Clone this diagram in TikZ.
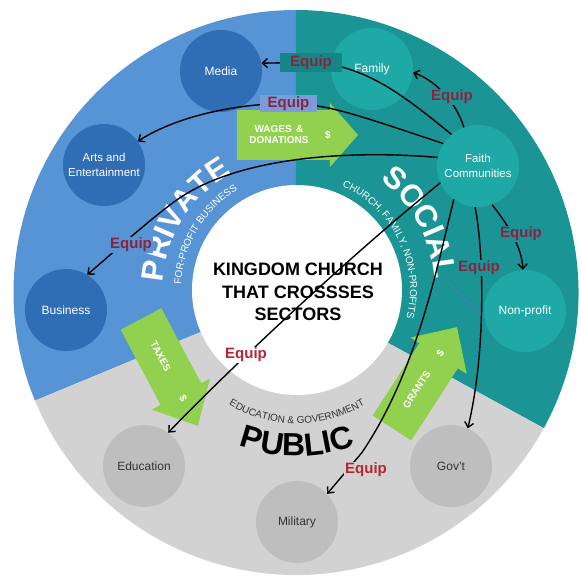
\documentclass[tikz,border=0pt]{standalone}
\usepackage{fontspec}
\setmainfont{Liberation Sans}
\usetikzlibrary{arrows.meta,decorations.text}
\definecolor{privc}{HTML}{5694D6}
\definecolor{privcirc}{HTML}{2F6DB5}
\definecolor{socc}{HTML}{1A9494}
\definecolor{soccirc}{HTML}{1FA9A6}
\definecolor{pubc}{HTML}{D2D2D2}
\definecolor{pubcirc}{HTML}{BEBEBE}
\definecolor{greenarr}{HTML}{92D050}
\definecolor{equipdark}{HTML}{8B2340}
\definecolor{equipred}{HTML}{B52532}
\definecolor{boxteal}{HTML}{158585}
\definecolor{boxblue}{HTML}{7A9CD8}
\definecolor{faintline}{HTML}{6A78D0}
\newcommand{\ampchar}{\&}
\begin{document}
\begin{tikzpicture}[x=1pt,y=1pt,
  basecirc/.style={circle, minimum size=82pt, inner sep=0pt, align=center, font=\fontsize{12}{15}\selectfont},
  pcirc/.style={basecirc, fill=privcirc, text=white},
  scirc/.style={basecirc, fill=soccirc, text=white},
  gcirc/.style={basecirc, fill=pubcirc, text=black!80},
  twoline/.style={font=\fontsize{11.5}{15}\selectfont},
  garrtext/.style={text=white, font=\fontsize{10}{11}\selectfont\bfseries, inner sep=0pt, align=center},
  conn/.style={line width=1.4pt, black, -{Straight Barb[length=5pt,width=9pt]}},
  equip/.style={font=\fontsize{15}{15}\selectfont\bfseries, text=equipdark, inner sep=1pt},
  equipg/.style={equip, text=equipred}]
\useasboundingbox (-296,-283.5) rectangle (285,292.5);
% sectors
\fill[privc] (0,0) -- (90:282.5) arc[start angle=90, end angle=202.5, radius=282.5] -- cycle;
\fill[socc] (0,0) -- (-28.7:282.5) arc[start angle=-28.7, end angle=90, radius=282.5] -- cycle;
\fill[pubc] (0,0) -- (202.5:282.5) arc[start angle=202.5, end angle=331.3, radius=282.5] -- cycle;
\fill[white] (1,2.5) circle[radius=105];
% green arrows
\fill[greenarr] (-59,132.5) -- (34,132.5) -- (34,125.5) -- (62,157.5) -- (34,189.5) -- (34,182.5) -- (-59,182.5) -- cycle;
\node[garrtext] (wages) at (-17,158) {WAGES \,\&\\DONATIONS};
\node[garrtext] (wagesd) at (32,157.5) {\$};
\begin{scope}[shift={(-155,-26.5)}, rotate=-62]
\fill[greenarr] (0,-23) -- (85,-23) -- (85,-33) -- (121,0) -- (85,33) -- (85,23) -- (0,23) -- cycle;
\node[garrtext, rotate=-62] (taxes) at (42,0) {TAXES};
\node[garrtext, rotate=-62] (taxesd) at (90,0) {\$};
\end{scope}
\begin{scope}[shift={(96,-135.5)}, rotate=57.2]
\fill[greenarr] (0,-23) -- (86,-23) -- (86,-33.5) -- (120,0) -- (86,33.5) -- (86,23) -- (0,23) -- cycle;
\node[garrtext, rotate=57.2] (grants) at (45.5,0) {GRANTS};
\node[garrtext, rotate=57.2] (grantsd) at (89,0) {\$};
\end{scope}
% arc texts
\begin{scope}[shift={(1,2.5)}]
\path[decorate, decoration={text along path, text align=center, text={|\fontsize{31}{31}\selectfont\bfseries\color{white}|PRIVATE}}]
  (188:134) arc[start angle=188, end angle=108, radius=134];
\path[decorate, decoration={text along path, text align=center, text={|\fontsize{31}{31}\selectfont\bfseries\color{white}|SOCIAL}}]
  (68.6:138) arc[start angle=68.6, end angle=-11.4, radius=138];
\path[decorate, decoration={text along path, text align=center, text={|\fontsize{10}{10}\selectfont\color{white}|FOR-PROFIT BUSINESS}}]
  (189:116) arc[start angle=189, end angle=109, radius=116];
\path[decorate, decoration={text along path, text align=center, text={|\fontsize{10}{10}\selectfont\color{white}|CHURCH, FAMILY, NON-PROFITS}}]
  (76:113) arc[start angle=76, end angle=-24, radius=113];
\path[decorate, decoration={text along path, text align=center, text={|\fontsize{10}{10}\selectfont\color{black!80}|EDUCATION {\ampchar} GOVERNMENT}}]
  (225:133.5) arc[start angle=225, end angle=315, radius=133.5];
\path[decorate, decoration={text along path, text align=center, text={|\fontsize{32}{32}\selectfont\bfseries\color{black}|PUBLIC}}]
  (225:166) arc[start angle=225, end angle=315, radius=166];
\end{scope}
% circles
\node[pcirc] (media) at (-75,221.5) {Media};
\node[pcirc, twoline] (arts) at (-192,127.5) {Arts and\\Entertainment};
\node[pcirc] (business) at (-230,-17.5) {Business};
\node[scirc] (family) at (76,223.5) {Family};
\node[scirc, twoline] (faith) at (182,126.5) {Faith\\Communities};
\node[scirc] (nonprofit) at (229,-18.5) {Non-profit};
\node[gcirc] (education) at (-152,-173.5) {Education};
\node[gcirc] (military) at (1,-229.5) {Military};
\node[gcirc] (govt) at (155,-173.5) {Gov't};
% title
\node[font=\fontsize{18}{22.5}\selectfont\bfseries, align=center] (title) at (2,0.5) {KINGDOM CHURCH\\THAT CROSSSES\\SECTORS};
% faint line
\coordinate (fa) at (142,19.5);
\coordinate (fb) at (204,-40.5);
\draw[faintline, line width=0.5pt, opacity=0.7] (fa) -- (fb);
\fill[faintline, opacity=0.7] (fb) circle[radius=1.5];
% connectors
\draw[conn] (faith.110) .. controls (160,190) and (140,212) .. (family.-5);
\draw[conn] (faith.130) .. controls (110,195) and (70,228) .. (15,230) -- (media.11);
\draw[conn] (faith.147) .. controls (60,178) and (30,189) .. (-8,189) .. controls (-60,189) and (-120,176) .. (arts.35);
\draw[conn] (faith.168) .. controls (50,143) and (-60,135) .. (-120,92) .. controls (-150,70) and (-185,38) .. (business.59);
\draw[conn] (faith.204) .. controls (40,25) and (-80,-90) .. (education.54);
\draw[conn] (faith.234) .. controls (140,20) and (120,-80) .. (66,-160) -- (military.43);
\draw[conn] (faith.266) .. controls (188,40) and (190,-60) .. (govt.66);
\draw[conn] (faith.290) .. controls (212,68) and (226,45) .. (nonprofit.93);
% labels
\node[equip, fill=socc] (eq1) at (156,195.5) {Equip};
\node[equip, fill=boxteal, minimum width=62pt, minimum height=19pt, inner sep=0pt] (eq2) at (15,230) {Equip};
\node[equip, fill=boxblue, minimum width=57pt, minimum height=17pt, inner sep=0pt] (eq3) at (-7.5,189) {Equip};
\node[equip, fill=privc] (eq4) at (-165,47.5) {Equip};
\node[equipg, fill=white] (eq5) at (-50,-62.5) {Equip};
\node[equipg, fill=pubc] (eq6) at (70,-177.5) {Equip};
\node[equip, fill=socc] (eq7) at (183,24.5) {Equip};
\node[equip, fill=socc] (eq8) at (225,58.5) {Equip};
\end{tikzpicture}
\end{document}
